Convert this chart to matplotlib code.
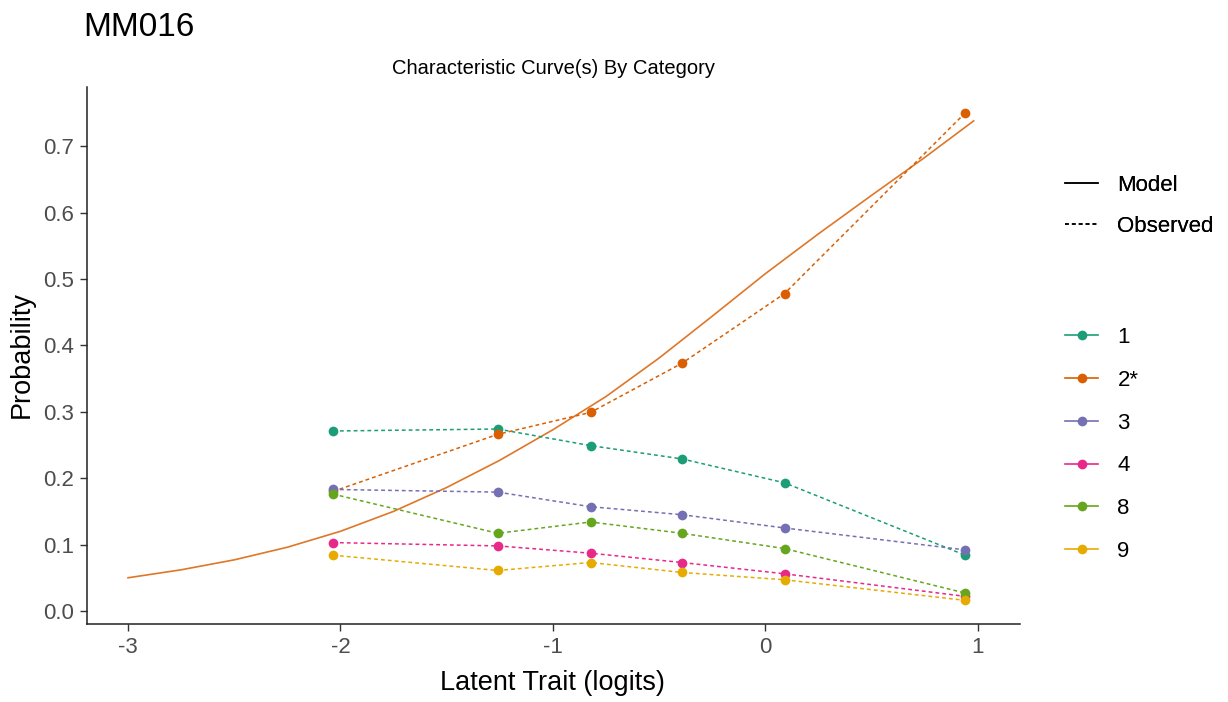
import matplotlib
matplotlib.use("Agg")
import matplotlib.pyplot as plt
from matplotlib.lines import Line2D

plt.rcParams['font.family'] = ['Liberation Sans', 'DejaVu Sans']

# observed points (per category)
obs_x = [-2.035, -1.26, -0.823, -0.393, 0.09, 0.94]
categories = ['1', '2*', '3', '4', '8', '9']
cat_colors = ['#1B9E77', '#D95F02', '#7570B3', '#E7298A', '#66A61E', '#E6AB02']
obs_y = {
    '1':  [0.271, 0.274, 0.249, 0.229, 0.193, 0.084],
    '2*': [0.180, 0.266, 0.299, 0.373, 0.478, 0.750],
    '3':  [0.183, 0.179, 0.157, 0.145, 0.125, 0.092],
    '4':  [0.103, 0.098, 0.087, 0.073, 0.056, 0.022],
    '8':  [0.176, 0.117, 0.134, 0.117, 0.094, 0.027],
    '9':  [0.084, 0.061, 0.073, 0.058, 0.047, 0.016],
}

# model curve for the keyed category
model_x = [-3.0, -2.75, -2.5, -2.25, -2.0, -1.75, -1.5, -1.25, -1.0, -0.75,
           -0.5, -0.25, 0.0, 0.25, 0.5, 0.75, 0.98]
model_y = [0.050, 0.062, 0.077, 0.096, 0.120, 0.150, 0.186, 0.227, 0.273, 0.323,
           0.381, 0.444, 0.508, 0.568, 0.626, 0.683, 0.738]

fig = plt.figure(figsize=(12.28, 7.02), dpi=100)
ax = fig.add_axes([87 / 1228, 1 - 624 / 702, (1020 - 87) / 1228, (624 - 87) / 702])

ax.plot(model_x, model_y, color='#D95F02', lw=1.2, alpha=0.85, zorder=2)

for cat, col in zip(categories, cat_colors):
    ax.plot(obs_x, obs_y[cat], color=col, lw=1.1, linestyle=(0, (2.5, 2)), zorder=3)
    ax.plot(obs_x, obs_y[cat], 'o', color=col, ms=7, mec='none', zorder=4)

ax.set_xlim(-3.193, 1.198)
ax.set_ylim(-0.0196, 0.789)
ax.set_xticks([-3, -2, -1, 0, 1])
ax.set_xticklabels(['-3', '-2', '-1', '0', '1'])
ax.set_yticks([0.0, 0.1, 0.2, 0.3, 0.4, 0.5, 0.6, 0.7])

for s in ['top', 'right']:
    ax.spines[s].set_visible(False)
for s in ['left', 'bottom']:
    ax.spines[s].set_linewidth(1.1)
    ax.spines[s].set_color('#222222')
ax.tick_params(length=5, width=1.0, color='#333333', labelcolor='#4D4D4D',
               labelsize=16, pad=4.5)

fig.text(552 / 1228, 1 - 683 / 702, 'Latent Trait (logits)', fontsize=19.5,
         ha='center', va='center')
fig.text(22 / 1228, 1 - 355 / 702, 'Probability', fontsize=19.5,
         ha='center', va='center', rotation=90)

fig.text(83 / 1228, 1 - 27 / 702, 'MM016', fontsize=24, va='center', ha='left')
fig.text(553 / 1228, 1 - 68 / 702, 'Characteristic Curve(s) By Category',
         fontsize=14.5, va='center', ha='center')

# legends
h1 = [Line2D([], [], color='black', lw=1.1),
      Line2D([], [], color='black', lw=1.1, linestyle=(0, (2.5, 2)))]
leg1 = fig.legend(h1, ['Model', 'Observed'], loc='upper left',
                  bbox_to_anchor=(1065 / 1228, 1 - 175 / 702), frameon=False,
                  fontsize=16, handlelength=1.5, handletextpad=0.86,
                  labelspacing=0.91, borderpad=0, borderaxespad=0)
fig.add_artist(leg1)

h2 = [Line2D([], [], color=c, lw=1.2, marker='o', ms=7, mec='none')
      for c in cat_colors]
fig.legend(h2, categories, loc='upper left',
           bbox_to_anchor=(1065 / 1228, 1 - 327 / 702), frameon=False,
           fontsize=16, handlelength=1.5, handletextpad=0.86,
           labelspacing=0.98, borderpad=0, borderaxespad=0)

fig.savefig('out.png', dpi=100)
